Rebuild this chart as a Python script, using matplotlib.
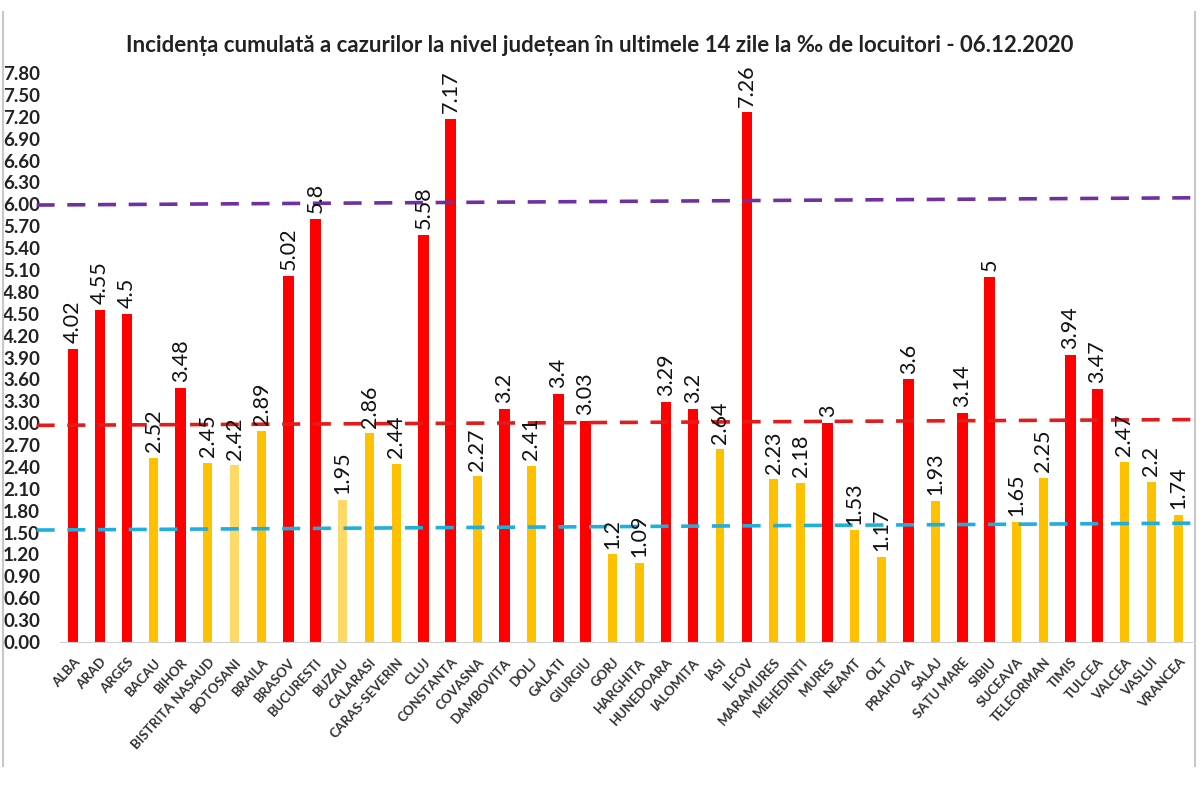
import numpy as np
import matplotlib.pyplot as plt
from matplotlib.lines import Line2D

plt.rcParams['font.family'] = ['Lato', 'DejaVu Sans']

# judete si incidenta (‰)
judete = [
    "ALBA", "ARAD", "ARGES", "BACAU", "BIHOR", "BISTRITA NASAUD", "BOTOSANI",
    "BRAILA", "BRASOV", "BUCURESTI", "BUZAU", "CALARASI", "CARAS-SEVERIN",
    "CLUJ", "CONSTANTA", "COVASNA", "DAMBOVITA", "DOLJ", "GALATI", "GIURGIU",
    "GORJ", "HARGHITA", "HUNEDOARA", "IALOMITA", "IASI", "ILFOV", "MARAMURES",
    "MEHEDINTI", "MURES", "NEAMT", "OLT", "PRAHOVA", "SALAJ", "SATU MARE",
    "SIBIU", "SUCEAVA", "TELEORMAN", "TIMIS", "TULCEA", "VALCEA", "VASLUI",
    "VRANCEA"
]
incidenta = [
    4.02, 4.55, 4.5, 2.52, 3.48, 2.45, 2.42, 2.89, 5.02, 5.8, 1.95, 2.86,
    2.44, 5.58, 7.17, 2.27, 3.2, 2.41, 3.4, 3.03, 1.2, 1.09, 3.29, 3.2,
    2.64, 7.26, 2.23, 2.18, 3, 1.53, 1.17, 3.6, 1.93, 3.14, 5, 1.65, 2.25,
    3.94, 3.47, 2.47, 2.2, 1.74
]
value_labels = [
    "4.02", "4.55", "4.5", "2.52", "3.48", "2.45", "2.42", "2.89", "5.02",
    "5.8", "1.95", "2.86", "2.44", "5.58", "7.17", "2.27", "3.2", "2.41",
    "3.4", "3.03", "1.2", "1.09", "3.29", "3.2", "2.64", "7.26", "2.23",
    "2.18", "3", "1.53", "1.17", "3.6", "1.93", "3.14", "5", "1.65", "2.25",
    "3.94", "3.47", "2.47", "2.2", "1.74"
]
# r = rosu, g = galben-portocaliu, l = galben deschis, y = galben
categorie = list("rrrgrglgrrlggrrgrgrrggrrgrggrggrgrrggrrggg")

# praguri (linii punctate), usor inclinate ca in original
praguri_start = [5.99, 2.97, 1.535]
praguri_end = [6.09, 3.05, 1.63]
culori_prag = ["#7030A0", "#E41B1B", "#1FAEE0"]

culori = {"r": "#FF0000", "g": "#FFC000", "l": "#FFD966", "y": "#FFFF00"}
latimi = {"r": 0.40, "g": 0.33, "l": 0.33, "y": 0.33}

fig = plt.figure(figsize=(12, 7.9), dpi=100)
ax = fig.add_axes([0.0496, 0.1873, 0.9435, 0.7203])

x = np.arange(len(judete))
ax.bar(x, incidenta,
       width=[latimi[c] for c in categorie],
       color=[culori[c] for c in categorie], zorder=2)

for xi, v, lbl in zip(x, incidenta, value_labels):
    ax.text(xi, v + 0.08, lbl, rotation=90, ha="center", va="bottom",
            fontsize=15.5, color="#111111", zorder=4)

for y0, y1, c in zip(praguri_start, praguri_end, culori_prag):
    ax.plot([-1.35, 41.8], [y0, y1], color=c, lw=2.6,
            dashes=(5, 3.5), clip_on=False, zorder=3)

ax.set_xlim(-0.5, 41.5)
ax.set_ylim(0, 7.8)
ax.set_yticks(np.arange(0, 7.81, 0.3))
ax.set_yticklabels([f"{t:.2f}" for t in np.arange(0, 7.81, 0.3)],
                   fontsize=13.5, fontweight="bold", color="#222222")
ax.set_xticks(x)
ax.set_xticklabels(judete, rotation=48, ha="right", rotation_mode="anchor",
                   fontsize=9.5, fontweight="bold", color="#333333")
ax.tick_params(axis="both", length=0)
ax.tick_params(axis="y", pad=14)
ax.tick_params(axis="x", pad=10)
for s in ["top", "right", "left"]:
    ax.spines[s].set_visible(False)
ax.spines["bottom"].set_color("#d0d0d0")

fig.text(0.5, 0.943,
         "Incidența cumulată a cazurilor la nivel județean în ultimele 14 zile la ‰ de locuitori - 06.12.2020",
         ha="center", va="center", fontsize=16, fontweight="bold",
         color="#222222")

# chenarul capturii
for xf in [0.0025, 0.996]:
    fig.add_artist(Line2D([xf, xf], [0.03, 0.985], color="#c8c8c8", lw=1.5))

fig.savefig("out.png", dpi=100, facecolor="white")
